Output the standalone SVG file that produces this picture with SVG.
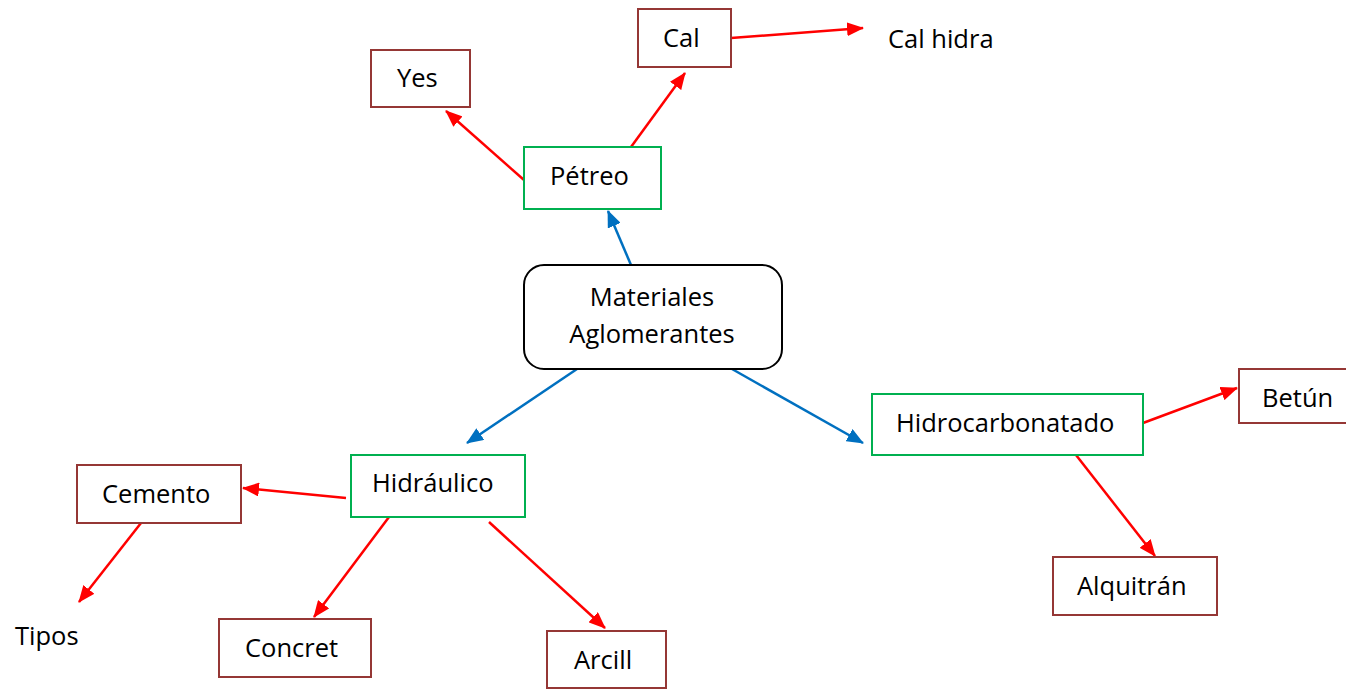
<svg xmlns="http://www.w3.org/2000/svg" width="1346" height="689" viewBox="0 0 1346 689">
  <style>
    text { font-family: "Open Sans", "Liberation Sans", sans-serif; font-size: 25.5px; fill: #000; }
    .main { fill: #fff; stroke: #000; stroke-width: 2; }
    .cat { fill: #fff; stroke: #00B050; stroke-width: 2; }
    .leaf { fill: #fff; stroke: #953735; stroke-width: 2; }
    .blue { stroke: #0070C0; stroke-width: 2.5; fill: none; marker-end: url(#arrowBlue); }
    .red { stroke: #FF0000; stroke-width: 2.5; fill: none; marker-end: url(#arrowRed); }
  </style>
  <defs>
    <marker id="arrowBlue" markerUnits="userSpaceOnUse" markerWidth="17" markerHeight="14" refX="16" refY="7" orient="auto">
      <path d="M0,0 L17,7 L0,14 z" fill="#0070C0"/>
    </marker>
    <marker id="arrowRed" markerUnits="userSpaceOnUse" markerWidth="17" markerHeight="14" refX="16" refY="7" orient="auto">
      <path d="M0,0 L17,7 L0,14 z" fill="#FF0000"/>
    </marker>
  </defs>
  <rect width="1346" height="689" fill="#fff"/>

  <g id="connectors">
    <line class="blue" x1="631" y1="265" x2="608" y2="211"/>
    <line class="blue" x1="577" y1="369" x2="467" y2="443"/>
    <line class="blue" x1="732" y1="369" x2="863" y2="443"/>
    <line class="red" x1="524" y1="180" x2="446" y2="111"/>
    <line class="red" x1="631" y1="147" x2="685" y2="73"/>
    <line class="red" x1="731" y1="38" x2="863" y2="28"/>
    <line class="red" x1="346" y1="498" x2="243" y2="488"/>
    <line class="red" x1="141" y1="523" x2="79" y2="602"/>
    <line class="red" x1="389" y1="517" x2="314" y2="617"/>
    <line class="red" x1="489" y1="522" x2="605" y2="628"/>
    <line class="red" x1="1143" y1="423" x2="1237" y2="388"/>
    <line class="red" x1="1076" y1="455" x2="1155" y2="556"/>
  </g>

  <g id="materiales">
    <rect class="main" x="524" y="265" width="258" height="104" rx="20" ry="20"/>
    <text x="652" y="306" text-anchor="middle">Materiales</text>
    <text x="652" y="343" text-anchor="middle">Aglomerantes</text>
  </g>

  <g id="petreo">
    <rect class="cat" x="524" y="147" width="137" height="62"/>
    <text x="550" y="185">Pétreo</text>
  </g>
  <g id="yes">
    <rect class="leaf" x="371" y="50" width="99" height="57"/>
    <text x="397" y="87">Yes</text>
  </g>
  <g id="cal">
    <rect class="leaf" x="638" y="9" width="93" height="58"/>
    <text x="663" y="47">Cal</text>
  </g>
  <g id="cal-hidra">
    <text x="888" y="48">Cal hidra</text>
  </g>

  <g id="hidraulico">
    <rect class="cat" x="351" y="455" width="174" height="62"/>
    <text x="372" y="492">Hidráulico</text>
  </g>
  <g id="cemento">
    <rect class="leaf" x="77" y="465" width="164" height="58"/>
    <text x="102" y="503">Cemento</text>
  </g>
  <g id="tipos">
    <text x="15" y="645">Tipos</text>
  </g>
  <g id="concret">
    <rect class="leaf" x="219" y="619" width="152" height="58"/>
    <text x="245" y="657">Concret</text>
  </g>
  <g id="arcill">
    <rect class="leaf" x="547" y="631" width="119" height="57"/>
    <text x="574" y="669">Arcill</text>
  </g>

  <g id="hidrocarbonatado">
    <rect class="cat" x="872" y="394" width="271" height="61"/>
    <text x="896" y="432">Hidrocarbonatado</text>
  </g>
  <g id="betun">
    <rect class="leaf" x="1239" y="369" width="110" height="54"/>
    <text x="1262" y="407">Betún</text>
  </g>
  <g id="alquitran">
    <rect class="leaf" x="1053" y="557" width="164" height="58"/>
    <text x="1077" y="595">Alquitrán</text>
  </g>
</svg>
